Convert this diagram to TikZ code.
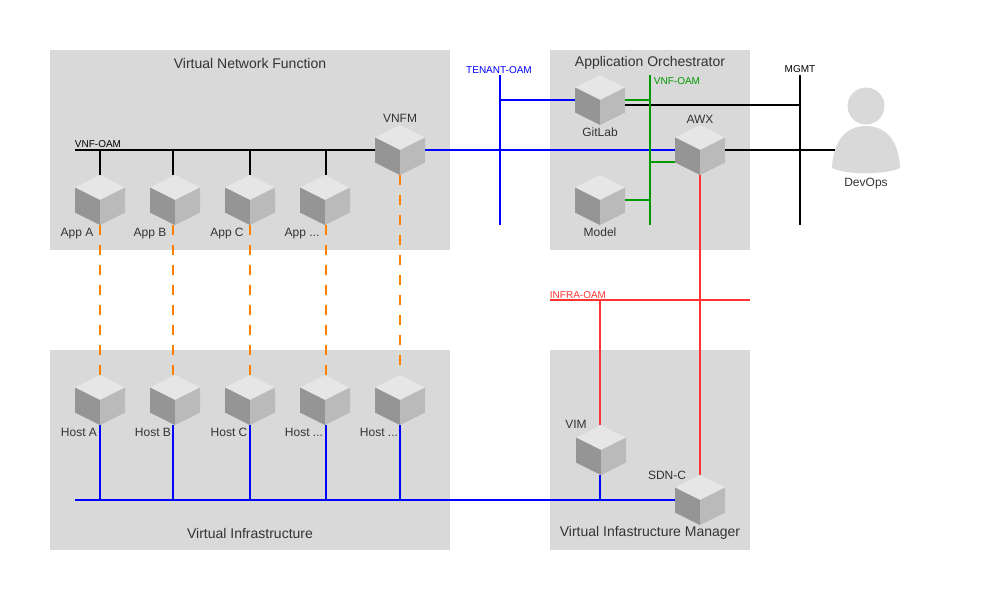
\documentclass[tikz,border=0pt]{standalone}
\usepackage{fontspec}
\setmainfont{Liberation Sans}
\definecolor{panelgray}{HTML}{D9D9D9}
\definecolor{cubetop}{HTML}{E6E6E6}
\definecolor{cubeleft}{HTML}{959595}
\definecolor{cuberight}{HTML}{BABABA}
\definecolor{textgray}{HTML}{333333}
\definecolor{oamblue}{HTML}{0000FF}
\definecolor{oamgreen}{HTML}{009900}
\definecolor{oamred}{HTML}{FF3333}
\definecolor{linkorange}{HTML}{FF8000}
\tikzset{
  panel/.style={fill=panelgray, inner sep=0pt, minimum width=#1*.75pt, minimum height=150pt},
  title/.style={text=textgray, font=\fontsize{10.5pt}{12pt}\selectfont, inner sep=0pt},
  tag/.style={text=textgray, font=\fontsize{9pt}{11pt}\selectfont, inner sep=0pt, text height=6.5pt, text depth=2pt},
  bus/.style={font=\fontsize{7.5pt}{9pt}\selectfont, inner sep=0pt},
  cube/.style={minimum size=37.5pt, inner sep=0pt, path picture={
    \fill[cubetop, shift={(path picture bounding box.center)}] (-25,-12.5) -- (0,-25) -- (25,-12.5) -- (0,0) -- cycle;
    \fill[cubeleft, shift={(path picture bounding box.center)}] (-25,-12.5) -- (0,0) -- (0,25) -- (-25,12.5) -- cycle;
    \fill[cuberight, shift={(path picture bounding box.center)}] (25,-12.5) -- (0,0) -- (0,25) -- (25,12.5) -- cycle;
  }},
  person/.style={minimum width=51pt, minimum height=66pt, inner sep=0pt, path picture={
    \fill[panelgray, shift={(path picture bounding box.center)}] (0,-25) circle (18.5);
    \fill[panelgray, shift={(path picture bounding box.center)}] (-34,37) .. controls (-33,10) and (-20,-5) .. (0,-5) .. controls (20,-5) and (33,10) .. (34,37) .. controls (20,44) and (-20,44) .. (-34,37) -- cycle;
  }},
  link/.style={line width=1.5pt},
  vm link/.style={line width=1.5pt, linkorange, dash pattern=on 7.5pt off 7.5pt},
}
\begin{document}
\begin{tikzpicture}[x=.75pt, y=-.75pt]
  \useasboundingbox (0,0) rectangle (1000,600);

  \node[panel=400] (vnf panel) at (250,150) {};
  \node[panel=200] (orch panel) at (650,150) {};
  \node[panel=400] (infra panel) at (250,450) {};
  \node[panel=200] (vim panel) at (650,450) {};

  \node[title] (vnf title) at (250,63) {Virtual Network Function};
  \node[title] (orch title) at (650,63) {Application Orchestrator};
  \node[title] (infra title) at (250,533) {Virtual Infrastructure};
  \node[title] (vim title) at (650,533) {Virtual Infastructure Manager};

  \node[cube] (app a) at (100,200) {};
  \node[cube] (app b) at (175,200) {};
  \node[cube] (app c) at (250,200) {};
  \node[cube] (app d) at (325,200) {};
  \node[cube] (vnfm) at (400,150) {};
  \node[cube] (gitlab) at (600,100) {};
  \node[cube] (awx) at (700,150) {};
  \node[cube] (model) at (600,200) {};
  \node[cube] (host a) at (100,400) {};
  \node[cube] (host b) at (175,400) {};
  \node[cube] (host c) at (250,400) {};
  \node[cube] (host d) at (325,400) {};
  \node[cube] (host e) at (400,400) {};
  \node[cube] (vim) at (601,450) {};
  \node[cube] (sdnc) at (700,500) {};
  \node[person] (devops) at (866,131) {};

  \node[tag] (app a label) at (77,233) {App A};
  \node[tag] (app b label) at (150,233) {App B};
  \node[tag] (app c label) at (227,233) {App C};
  \node[tag] (app d label) at (302,233) {App ...};
  \node[tag] (vnfm label) at (400,119.5) {VNFM};
  \node[tag] (gitlab label) at (600,133) {GitLab};
  \node[tag] (awx label) at (700,120) {AWX};
  \node[tag] (model label) at (600,233) {Model};
  \node[tag] (host a label) at (79,433) {Host A};
  \node[tag] (host b label) at (153,433) {Host B};
  \node[tag] (host c label) at (229,433) {Host C};
  \node[tag] (host d label) at (304,433) {Host ...};
  \node[tag] (host e label) at (379,433) {Host ...};
  \node[tag] (vim label) at (576,425) {VIM};
  \node[tag] (sdnc label) at (667,476) {SDN-C};
  \node[tag] (devops label) at (866,183) {DevOps};

  \node[bus] (vnf oam label) at (98,144) {VNF-OAM};
  \node[bus, oamblue] (tenant label) at (499,70) {TENANT-OAM};
  \node[bus, oamgreen] (green label) at (677,81) {VNF-OAM};
  \node[bus] (mgmt label) at (800,69) {MGMT};
  \node[bus, oamred] (infra label) at (578,295) {INFRA-OAM};

  \coordinate (vnf oam start) at (75,150);
  \coordinate (tenant top) at (500,75);
  \coordinate (tenant bottom) at (500,225);
  \coordinate (green top) at (650,75);
  \coordinate (green bottom) at (650,225);
  \coordinate (mgmt top) at (800,75);
  \coordinate (mgmt bottom) at (800,225);
  \coordinate (infra start) at (550,300);
  \coordinate (infra end) at (750,300);
  \coordinate (infra bus start) at (75,500);

  \draw[link] (vnf oam start) -- (vnfm.west);
  \draw[link] (app a.north) -- (app a.north |- vnf oam start);
  \draw[link] ([xshift=-1.5pt]app b.north) -- ([xshift=-1.5pt]app b.north |- vnf oam start);
  \draw[link] (app c.north) -- (app c.north |- vnf oam start);
  \draw[link] ([xshift=.75pt]app d.north) -- ([xshift=.75pt]app d.north |- vnf oam start);

  \draw[link] (mgmt top) -- (mgmt bottom);
  \draw[link] ([yshift=-3.75pt]gitlab.east) -- ([yshift=-3.75pt]gitlab.east -| mgmt top);
  \draw[link] (awx.east) -- ([xshift=2.25pt]devops.west |- awx.east);

  \draw[link, oamblue] (tenant top) -- (tenant bottom);
  \draw[link, oamblue] (gitlab.west) -- (gitlab.west -| tenant top);
  \draw[link, oamblue] (vnfm.east) -- (awx.west);

  \draw[link, oamgreen] (green top) -- (green bottom);
  \draw[link, oamgreen] (gitlab.east) -- (gitlab.east -| green top);
  \draw[link, oamgreen] ([yshift=-9pt]awx.west) -- ([yshift=-9pt]awx.west -| green top);
  \draw[link, oamgreen] (model.east) -- (model.east -| green top);

  \draw[link, oamred] (infra start) -- (infra end);
  \draw[link, oamred] (awx.south) -- (sdnc.north);
  \draw[link, oamred] ([xshift=-.75pt]vim.north) -- ([xshift=-.75pt]vim.north |- infra start);

  \draw[link, oamblue] (infra bus start) -- (sdnc.west);
  \draw[link, oamblue] (host a.south) -- (host a.south |- infra bus start);
  \draw[link, oamblue] ([xshift=-1.5pt]host b.south) -- ([xshift=-1.5pt]host b.south |- infra bus start);
  \draw[link, oamblue] (host c.south) -- (host c.south |- infra bus start);
  \draw[link, oamblue] ([xshift=.75pt]host d.south) -- ([xshift=.75pt]host d.south |- infra bus start);
  \draw[link, oamblue] (host e.south) -- (host e.south |- infra bus start);
  \draw[link, oamblue] ([xshift=-.75pt]vim.south) -- ([xshift=-.75pt]vim.south |- infra bus start);

  \draw[vm link] (app a.south) -- (host a.north);
  \draw[vm link] ([xshift=-1.5pt]app b.south) -- ([xshift=-1.5pt]host b.north);
  \draw[vm link] (app c.south) -- (host c.north);
  \draw[vm link] ([xshift=.75pt]app d.south) -- ([xshift=.75pt]host d.north);
  \draw[vm link] (vnfm.south) -- (host e.north);
\end{tikzpicture}
\end{document}
